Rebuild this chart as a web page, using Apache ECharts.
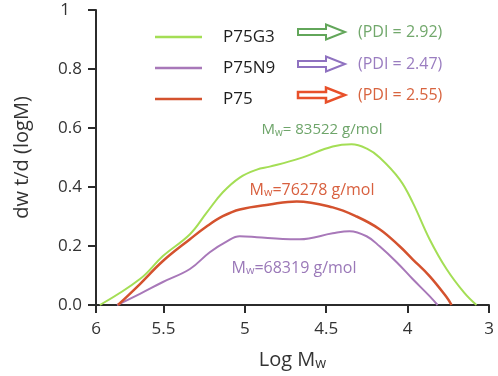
<!DOCTYPE html>
<html>
<head>
<meta charset="utf-8">
<script src="https://cdn.jsdelivr.net/npm/echarts@6/dist/echarts.min.js"></script>
<style>
  html, body { margin: 0; padding: 0; background: #fff; }
  #chart { width: 498px; height: 376px; }
</style>
</head>
<body>
<div id="chart"></div>
<script>
// x = log Mw (axis runs high -> low), y = dw/d(logM)
const xTickValues = [5.914, 5.5, 5, 4.5, 4, 3.5];
const xTickLabels = ['6', '5.5', '5', '4.5', '4', '3'];

const seriesNames = ['P75G3', 'P75N9', 'P75'];
const pdiLabels = ['(PDI = 2.92)', '(PDI = 2.47)', '(PDI = 2.55)'];
const mwLabels = ['= 83522 g/mol', '=68319 g/mol', '=76278 g/mol'];

const p75g3 = [
  [5.89, 0], [5.644, 0.088], [5.503, 0.166], [5.337, 0.24], [5.233, 0.314],
  [5.135, 0.382], [5.031, 0.432], [4.926, 0.459], [4.847, 0.469], [4.663, 0.497],
  [4.46, 0.537], [4.344, 0.545], [4.25, 0.53], [4.172, 0.50], [4.049, 0.426],
  [3.969, 0.348], [3.865, 0.223], [3.761, 0.122], [3.65, 0.04], [3.577, 0],
];
const p75n9 = [
  [5.785, 0], [5.644, 0.038], [5.503, 0.078], [5.337, 0.122], [5.215, 0.179],
  [5.11, 0.216], [5.031, 0.233], [4.926, 0.23], [4.767, 0.224], [4.663, 0.223],
  [4.46, 0.243], [4.356, 0.25], [4.252, 0.233], [4.172, 0.199], [4.067, 0.145],
  [3.969, 0.088], [3.865, 0.03], [3.816, 0],
];
const p75 = [
  [5.779, 0], [5.644, 0.071], [5.503, 0.149], [5.337, 0.223], [5.233, 0.267],
  [5.135, 0.301], [5.031, 0.324], [4.847, 0.341], [4.681, 0.351], [4.46, 0.331],
  [4.313, 0.30], [4.172, 0.257], [4.049, 0.199], [3.969, 0.155], [3.865, 0.098],
  [3.761, 0.027], [3.73, 0],
];

const lineColors = ['#a4de55', '#a878b9', '#d4522e'];
const arrowColors = ['#62a65a', '#8f72c0', '#e8502a'];
const pdiColors = ['#72a86c', '#9a7dc0', '#d8643f'];
const mwColors = ['#6ea56a', '#9a78b8', '#d8603f'];

const FONT = '"Open Sans", "DejaVu Sans", sans-serif';

function arrow(x, cy, color, lw) {
  return {
    type: 'polygon',
    shape: {
      points: [
        [x, cy - 3], [x + 28, cy - 3], [x + 28, cy - 7.5], [x + 47, cy],
        [x + 28, cy + 7.5], [x + 28, cy + 3], [x, cy + 3],
      ],
    },
    style: { fill: '#fff', stroke: color, lineWidth: lw },
  };
}

function mwText(x, y, idx, size) {
  return {
    type: 'text',
    x,
    y,
    style: {
      text: '{m|M}{s|w}{t|' + mwLabels[idx] + '}',
      textAlign: 'center',
      textVerticalAlign: 'middle',
      rich: {
        m: { fontSize: size, fontFamily: FONT, fill: mwColors[idx] },
        s: { fontSize: size - 5, fontFamily: FONT, fill: mwColors[idx], padding: [6, 0, 0, 0] },
        t: { fontSize: size, fontFamily: FONT, fill: mwColors[idx] },
      },
    },
  };
}

const rowsY = [32, 64, 95];
const graphic = [];
rowsY.forEach((cy, i) => {
  graphic.push(arrow(298, cy, arrowColors[i], i === 2 ? 2.5 : 2));
  graphic.push({
    type: 'text',
    x: 358,
    y: cy,
    style: {
      text: pdiLabels[i],
      fill: pdiColors[i],
      font: '16px ' + FONT,
      textVerticalAlign: 'middle',
    },
  });
});
graphic.push(mwText(322, 130, 0, 15));
graphic.push(mwText(312, 190, 2, 16));
graphic.push(mwText(294, 268, 1, 16));

const axisLine = { show: true, lineStyle: { color: '#2b2b2b', width: 2 } };

const chartOption = {
  animation: false,
  grid: { left: 96, right: 9, top: 10, bottom: 70 },
  legend: {
    orient: 'vertical',
    left: 150,
    top: 22,
    itemWidth: 47,
    itemHeight: 2.5,
    itemGap: 11,
    icon: 'rect',
    data: seriesNames,
    selectedMode: false,
    textStyle: {
      color: '#1e1e1e',
      fontSize: 17,
      fontWeight: 'normal',
      fontFamily: FONT,
      lineHeight: 20,
      padding: [0, 0, 0, 16],
    },
  },
  xAxis: {
    type: 'value',
    inverse: true,
    min: 3.5,
    max: 5.914,
    axisLine,
    splitLine: { show: false },
    axisTick: {
      show: true,
      customValues: xTickValues,
      length: 8,
      lineStyle: { color: '#2b2b2b', width: 2 },
    },
    axisLabel: {
      customValues: xTickValues,
      formatter: (v) => xTickLabels[xTickValues.indexOf(v)],
      fontSize: 17,
      fontFamily: FONT,
      color: '#333',
      margin: 16,
    },
    name: 'Log M{w|w}',
    nameLocation: 'middle',
    nameGap: 44,
    nameTextStyle: {
      fontSize: 20,
      fontFamily: FONT,
      color: '#333',
      rich: { w: { fontSize: 14, fontFamily: FONT, color: '#333', padding: [8, 0, 0, 0] } },
    },
  },
  yAxis: {
    type: 'value',
    min: 0,
    max: 1,
    interval: 0.2,
    axisLine,
    splitLine: { show: false },
    axisTick: {
      show: true,
      length: 8,
      lineStyle: { color: '#2b2b2b', width: 2 },
    },
    axisLabel: {
      formatter: (v) => (v === 1 ? '{one|1}' : v.toFixed(1)),
      fontSize: 17,
      fontFamily: FONT,
      color: '#333',
      margin: 14,
      rich: { one: { fontSize: 17, fontFamily: FONT, color: '#333', padding: [0, 12, 0, 0] } },
    },
    name: 'dw t/d (logM)',
    nameLocation: 'middle',
    nameGap: 64,
    nameTextStyle: { fontSize: 20, fontFamily: FONT, color: '#333' },
  },
  series: [
    { name: seriesNames[0], data: p75g3, color: lineColors[0], lineWidth: 2 },
    { name: seriesNames[1], data: p75n9, color: lineColors[1], lineWidth: 2 },
    { name: seriesNames[2], data: p75, color: lineColors[2], lineWidth: 2.5 },
  ].map((s) => ({
    name: s.name,
    type: 'line',
    smooth: 0.4,
    showSymbol: false,
    symbol: 'none',
    data: s.data,
    itemStyle: { color: s.color },
    lineStyle: { color: s.color, width: s.lineWidth },
  })),
  graphic,
};

const myChart = echarts.init(document.getElementById('chart'));
myChart.setOption(chartOption);
</script>
</body>
</html>
